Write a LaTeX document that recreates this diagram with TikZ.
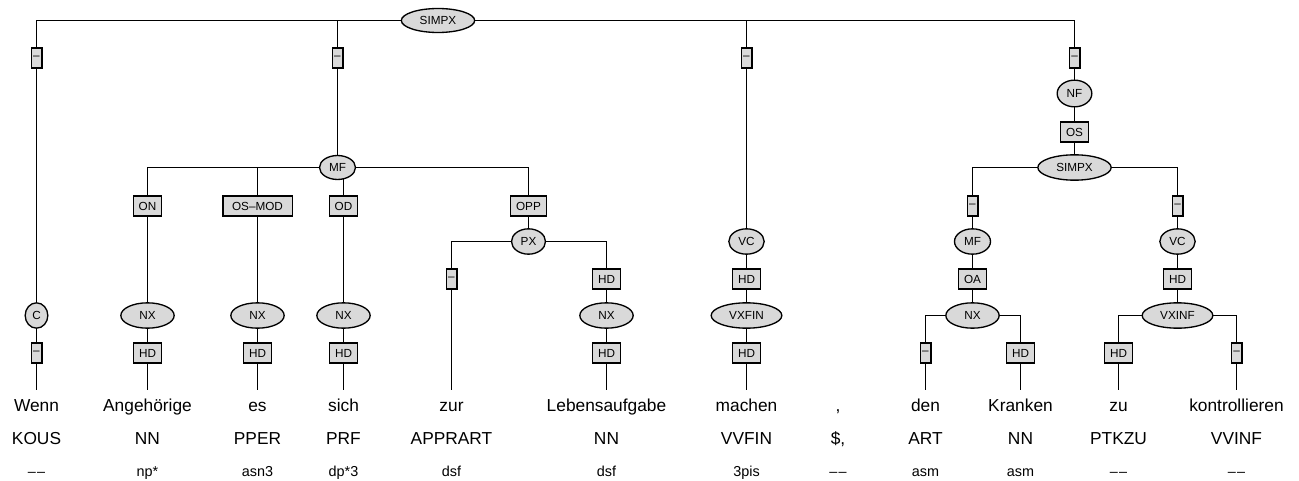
\documentclass[tikz,border=0pt]{standalone}
\usepackage{fontspec}
\setmainfont{Liberation Sans}
\usetikzlibrary{shapes.geometric,backgrounds}
\definecolor{nodegray}{RGB}{217,217,217}
\newcommand{\nomorph}{\textendash\kern0.9pt\textendash}
\tikzset{
  cat/.style={ellipse, draw, fill=nodegray, line width=1pt, inner sep=0pt,
    minimum height=19pt, font=\fontsize{8.8}{10}\selectfont},
  lab/.style={rectangle, draw, fill=nodegray, line width=1pt, inner xsep=4pt,
    inner ysep=0pt, minimum height=15pt, font=\fontsize{8.8}{10}\selectfont},
  nolab/.style={lab, inner xsep=0pt, minimum width=8pt},
  word/.style={anchor=base, inner ysep=5.5pt, text height=10pt, text depth=3pt,
    font=\fontsize{13}{15}\selectfont},
  tag/.style={anchor=base, font=\fontsize{13}{15}\selectfont},
  morph/.style={anchor=base, font=\fontsize{10.8}{12}\selectfont},
  edge/.style={line width=1pt}
}
\begin{document}
\begin{tikzpicture}[x=0.75pt, y=-0.75pt]
  \useasboundingbox (0,0) rectangle (1299,481);
  % Raiz
  \node[cat, minimum width=55pt, minimum height=18pt] (simpx) at (438,20.5) {SIMPX};
  \node[nolab] (d1) at (36.5,58) {\textendash};
  \node[nolab] (d2) at (337.5,58) {\textendash};
  \node[nolab] (d3) at (746.5,58) {\textendash};
  \node[nolab] (d4) at (1074.5,58) {\textendash};
  % Rama C
  \node[cat, minimum width=17pt] (cnode) at (36.5,315.5) {C};
  \node[nolab] (d5) at (36.5,353) {\textendash};
  % Rama MF
  \node[cat, minimum width=27pt, minimum height=18pt] (mf) at (337.5,167.5) {MF};
  \node[lab] (on) at (147.5,206) {ON};
  \node[lab, minimum width=52pt] (osmod) at (257.5,206) {OS\textendash MOD};
  \node[lab] (od) at (343.5,206) {OD};
  \node[lab] (opp) at (528.5,206) {OPP};
  \node[cat, minimum width=40pt] (nx1) at (147.5,315.5) {NX};
  \node[cat, minimum width=40pt] (nx2) at (257.5,315.5) {NX};
  \node[cat, minimum width=40pt] (nx3) at (343.5,315.5) {NX};
  \node[lab] (hd1) at (147.5,353) {HD};
  \node[lab] (hd2) at (257.5,353) {HD};
  \node[lab] (hd3) at (343.5,353) {HD};
  \node[cat, minimum width=25.5pt] (px) at (528.5,241.5) {PX};
  \node[nolab] (d6) at (451.5,279) {\textendash};
  \node[lab] (hd4) at (606.5,279) {HD};
  \node[cat, minimum width=40pt] (nx4) at (606.5,315.5) {NX};
  \node[lab] (hd5) at (606.5,353) {HD};
  % Rama VC
  \node[cat, minimum width=26.5pt] (vc) at (746.5,241.5) {VC};
  \node[lab] (hd6) at (746.5,279) {HD};
  \node[cat, minimum width=53pt] (vxfin) at (746.5,315.5) {VXFIN};
  \node[lab] (hd7) at (746.5,353) {HD};
  % Rama NF
  \node[cat, minimum width=26pt, minimum height=20pt] (nf) at (1074.5,93.5) {NF};
  \node[lab] (os) at (1074.5,132) {OS};
  \node[cat, minimum width=55pt] (simpx2) at (1074.5,167.5) {SIMPX};
  \node[nolab] (d7) at (972.5,206) {\textendash};
  \node[cat, minimum width=27pt] (mf2) at (972.5,241.5) {MF};
  \node[lab] (oa) at (972.5,279) {OA};
  \node[cat, minimum width=40pt] (nx5) at (972.5,315.5) {NX};
  \node[nolab] (d8) at (925.5,353) {\textendash};
  \node[lab] (hd8) at (1020.5,353) {HD};
  \node[nolab] (d9) at (1177.5,206) {\textendash};
  \node[cat, minimum width=26.5pt] (vc2) at (1177.5,241.5) {VC};
  \node[lab] (hd9) at (1177.5,279) {HD};
  \node[cat, minimum width=53pt] (vxinf) at (1177.5,315.5) {VXINF};
  \node[lab] (hd10) at (1118.5,353) {HD};
  \node[nolab] (d10) at (1236.5,353) {\textendash};
  % Palabras
  \node[word] (w1) at (36.5,411) {Wenn};
  \node[word] (w2) at (147.5,411) {Angehörige};
  \node[word] (w3) at (257.5,411) {es};
  \node[word] (w4) at (343.5,411) {sich};
  \node[word] (w5) at (451.5,411) {zur};
  \node[word] (w6) at (606.5,411) {Lebensaufgabe};
  \node[word] (w7) at (746.5,411) {machen};
  \node[word] (w8) at (838,411) {,};
  \node[word] (w9) at (925.5,411) {den};
  \node[word] (w10) at (1020.5,411) {Kranken};
  \node[word] (w11) at (1118.5,411) {zu};
  \node[word] (w12) at (1236.5,411) {kontrollieren};
  % Etiquetas
  \node[tag] (p1) at (36.5,444.5) {KOUS};
  \node[tag] (p2) at (147.5,444.5) {NN};
  \node[tag] (p3) at (257.5,444.5) {PPER};
  \node[tag] (p4) at (343.5,444.5) {PRF};
  \node[tag] (p5) at (451.5,444.5) {APPRART};
  \node[tag] (p6) at (606.5,444.5) {NN};
  \node[tag] (p7) at (746.5,444.5) {VVFIN};
  \node[tag] (p8) at (838,444.5) {\$,};
  \node[tag] (p9) at (925.5,444.5) {ART};
  \node[tag] (p10) at (1020.5,444.5) {NN};
  \node[tag] (p11) at (1118.5,444.5) {PTKZU};
  \node[tag] (p12) at (1236.5,444.5) {VVINF};
  % Morfologia
  \node[morph] (m1) at (36.5,476.7) {\nomorph};
  \node[morph] (m2) at (147.5,476.7) {np*};
  \node[morph] (m3) at (257.5,476.7) {asn3};
  \node[morph] (m4) at (343.5,476.7) {dp*3};
  \node[morph] (m5) at (451.5,476.7) {dsf};
  \node[morph] (m6) at (606.5,476.7) {dsf};
  \node[morph] (m7) at (746.5,476.7) {3pis};
  \node[morph] (m8) at (838,476.7) {\nomorph};
  \node[morph] (m9) at (925.5,476.7) {asm};
  \node[morph] (m10) at (1020.5,476.7) {asm};
  \node[morph] (m11) at (1118.5,476.7) {\nomorph};
  \node[morph] (m12) at (1236.5,476.7) {\nomorph};
  % Aristas
  \begin{scope}[on background layer]
    \draw[edge] (simpx.center) -| (d1.center) -- (cnode.center) -- (d5.center) -- (w1.north);
    \draw[edge] (simpx.center) -| (d2.center) -- (mf.center);
    \draw[edge] (simpx.center) -| (d3.center) -- (vc.center) -- (hd6.center) -- (vxfin.center) -- (hd7.center) -- (w7.north);
    \draw[edge] (simpx.center) -| (d4.center) -- (nf.center) -- (os.center) -- (simpx2.center);
    \draw[edge] (mf.center) -| (on.center) -- (nx1.center) -- (hd1.center) -- (w2.north);
    \draw[edge] (mf.center) -| (osmod.center) -- (nx2.center) -- (hd2.center) -- (w3.north);
    \draw[edge] (mf.center) -| (od.center) -- (nx3.center) -- (hd3.center) -- (w4.north);
    \draw[edge] (mf.center) -| (opp.center) -- (px.center);
    \draw[edge] (px.center) -| (d6.center) -- (w5.north);
    \draw[edge] (px.center) -| (hd4.center) -- (nx4.center) -- (hd5.center) -- (w6.north);
    \draw[edge] (simpx2.center) -| (d7.center) -- (mf2.center) -- (oa.center) -- (nx5.center);
    \draw[edge] (nx5.center) -| (d8.center) -- (w9.north);
    \draw[edge] (nx5.center) -| (hd8.center) -- (w10.north);
    \draw[edge] (simpx2.center) -| (d9.center) -- (vc2.center) -- (hd9.center) -- (vxinf.center);
    \draw[edge] (vxinf.center) -| (hd10.center) -- (w11.north);
    \draw[edge] (vxinf.center) -| (d10.center) -- (w12.north);
  \end{scope}
\end{tikzpicture}
\end{document}
